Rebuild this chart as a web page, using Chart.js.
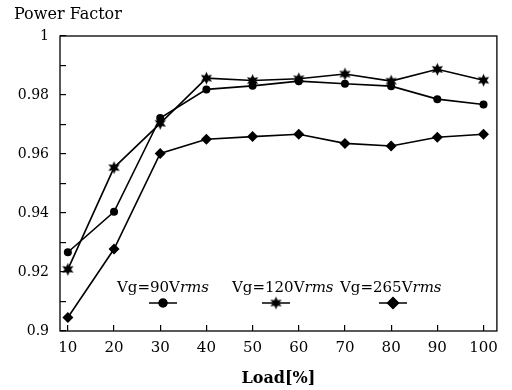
<!DOCTYPE html>
<html>
<head>
<meta charset="utf-8">
<script src="https://cdn.jsdelivr.net/npm/chart.js@4"></script>
<style>
html,body{margin:0;padding:0;background:#fff;}
#wrap{width:512px;height:390px;position:relative;}
</style>
</head>
<body>
<div id="wrap"><canvas id="c" width="512" height="390"></canvas></div>
<script>
const loads = [10, 20, 30, 40, 50, 60, 70, 80, 90, 100];
const pf90 = [0.9267, 0.9404, 0.9722, 0.9819, 0.9831, 0.9847, 0.9838, 0.9830, 0.9786, 0.9768];
const pf120 = [0.9209, 0.9554, 0.9704, 0.9857, 0.9849, 0.9855, 0.9871, 0.9847, 0.9887, 0.9850];
const pf265 = [0.9046, 0.9278, 0.9602, 0.9650, 0.9659, 0.9667, 0.9636, 0.9627, 0.9657, 0.9667];
const seriesNames = ['Vg=90V', 'Vg=120V', 'Vg=265V'];
const seriesSuffix = 'rms';
const yLabels = {'1': '1', '0.98': '0.98', '0.96': '0.96', '0.94': '0.94', '0.92': '0.92', '0.9': '0.9'};
const yTitle = 'Power Factor';
const xTitle = 'Load[%]';

function starImage(r) {
  const c = document.createElement('canvas');
  const s = Math.ceil(r * 2 + 2);
  c.width = s; c.height = s;
  const g = c.getContext('2d');
  g.translate(s / 2, s / 2);
  g.beginPath();
  for (let i = 0; i < 12; i++) {
    const a = -Math.PI / 2 + i * Math.PI / 6;
    const rr = i % 2 === 0 ? r : r * 0.5;
    g.lineTo(Math.cos(a) * rr, Math.sin(a) * rr);
  }
  g.closePath();
  g.fillStyle = '#000';
  g.fill();
  return c;
}
const star = starImage(6.5);

const serif = '"DejaVu Serif", "Liberation Serif", serif';

const frame = {
  id: 'frame',
  afterDraw(chart) {
    const {ctx, chartArea: a} = chart;
    ctx.save();
    ctx.strokeStyle = '#000';
    ctx.lineWidth = 1.3;
    ctx.strokeRect(a.left, a.top, a.right - a.left, a.bottom - a.top);
    ctx.font = '16px ' + serif;
    ctx.fillStyle = '#000';
    ctx.textBaseline = 'alphabetic';
    ctx.textAlign = 'left';
    ctx.fillText(yTitle, 14, 19);
    // legend
    const textX = [117, 232, 340];
    const markX = [163, 276, 393];
    chart.data.datasets.forEach((ds, i) => {
      ctx.font = '15px ' + serif;
      ctx.fillText(seriesNames[i], textX[i], 292);
      const w = ctx.measureText(seriesNames[i]).width;
      ctx.font = 'italic 15px ' + serif;
      ctx.fillText(seriesSuffix, textX[i] + w, 292);
      ctx.beginPath();
      ctx.lineWidth = 1.5;
      ctx.moveTo(markX[i] - 14, 303);
      ctx.lineTo(markX[i] + 14, 303);
      ctx.stroke();
      const ps = ds.pointStyle;
      if (ps instanceof HTMLCanvasElement) {
        ctx.drawImage(ps, markX[i] - ps.width / 2, 303 - ps.height / 2);
      } else {
        Chart.helpers.drawPoint(ctx, {pointStyle: ps, radius: ds.pointRadius, borderWidth: 1}, markX[i], 303);
        ctx.fill();
      }
    });
    ctx.restore();
  }
};

new Chart(document.getElementById('c'), {
  type: 'line',
  data: {
    datasets: [
      {data: loads.map((x, i) => ({x, y: pf90[i]})), pointStyle: 'circle', pointRadius: 4},
      {data: loads.map((x, i) => ({x, y: pf120[i]})), pointStyle: star, pointRadius: 6},
      {data: loads.map((x, i) => ({x, y: pf265[i]})), pointStyle: 'rectRot', pointRadius: 5.5}
    ].map(d => Object.assign({
      borderColor: '#000', backgroundColor: '#000', pointBackgroundColor: '#000',
      pointBorderColor: '#000', borderWidth: 1.6, pointBorderWidth: 0, tension: 0
    }, d))
  },
  options: {
    responsive: false,
    animation: false,
    events: [],
    layout: {padding: {left: 0, right: 2, top: 36, bottom: 0}},
    plugins: {legend: {display: false}, tooltip: {enabled: false}},
    scales: {
      x: {
        type: 'linear', min: 8.3, max: 102.9,
        afterBuildTicks(s) { s.ticks = loads.map(v => ({value: v})); },
        afterFit(s) { s.height = 59; },
        border: {display: false},
        grid: {drawOnChartArea: false, drawTicks: true, tickLength: -6, color: '#000', lineWidth: 1.2},
        ticks: {padding: 14, color: '#000', font: {family: serif, size: 15}, maxRotation: 0, autoSkip: false},
        title: {display: true, text: xTitle, color: '#000', font: {family: serif, size: 16, weight: 'bold'}, padding: {top: 4, bottom: 2}}
      },
      y: {
        type: 'linear', min: 0.9, max: 1.0,
        afterBuildTicks(s) {
          const t = [];
          for (let i = 0; i <= 10; i++) t.push({value: Math.round((0.9 + i * 0.01) * 100) / 100});
          s.ticks = t;
        },
        afterFit(s) { s.width = 60; },
        border: {display: false},
        grid: {drawOnChartArea: false, drawTicks: true, tickLength: -6, color: '#000', lineWidth: 1.2},
        ticks: {
          padding: 17, color: '#000', font: {family: serif, size: 14}, autoSkip: false,
          callback(v) { const k = String(Math.round(v * 100) / 100); return yLabels[k] !== undefined ? yLabels[k] : ''; }
        }
      }
    }
  },
  plugins: [frame]
});
</script>
</body>
</html>
